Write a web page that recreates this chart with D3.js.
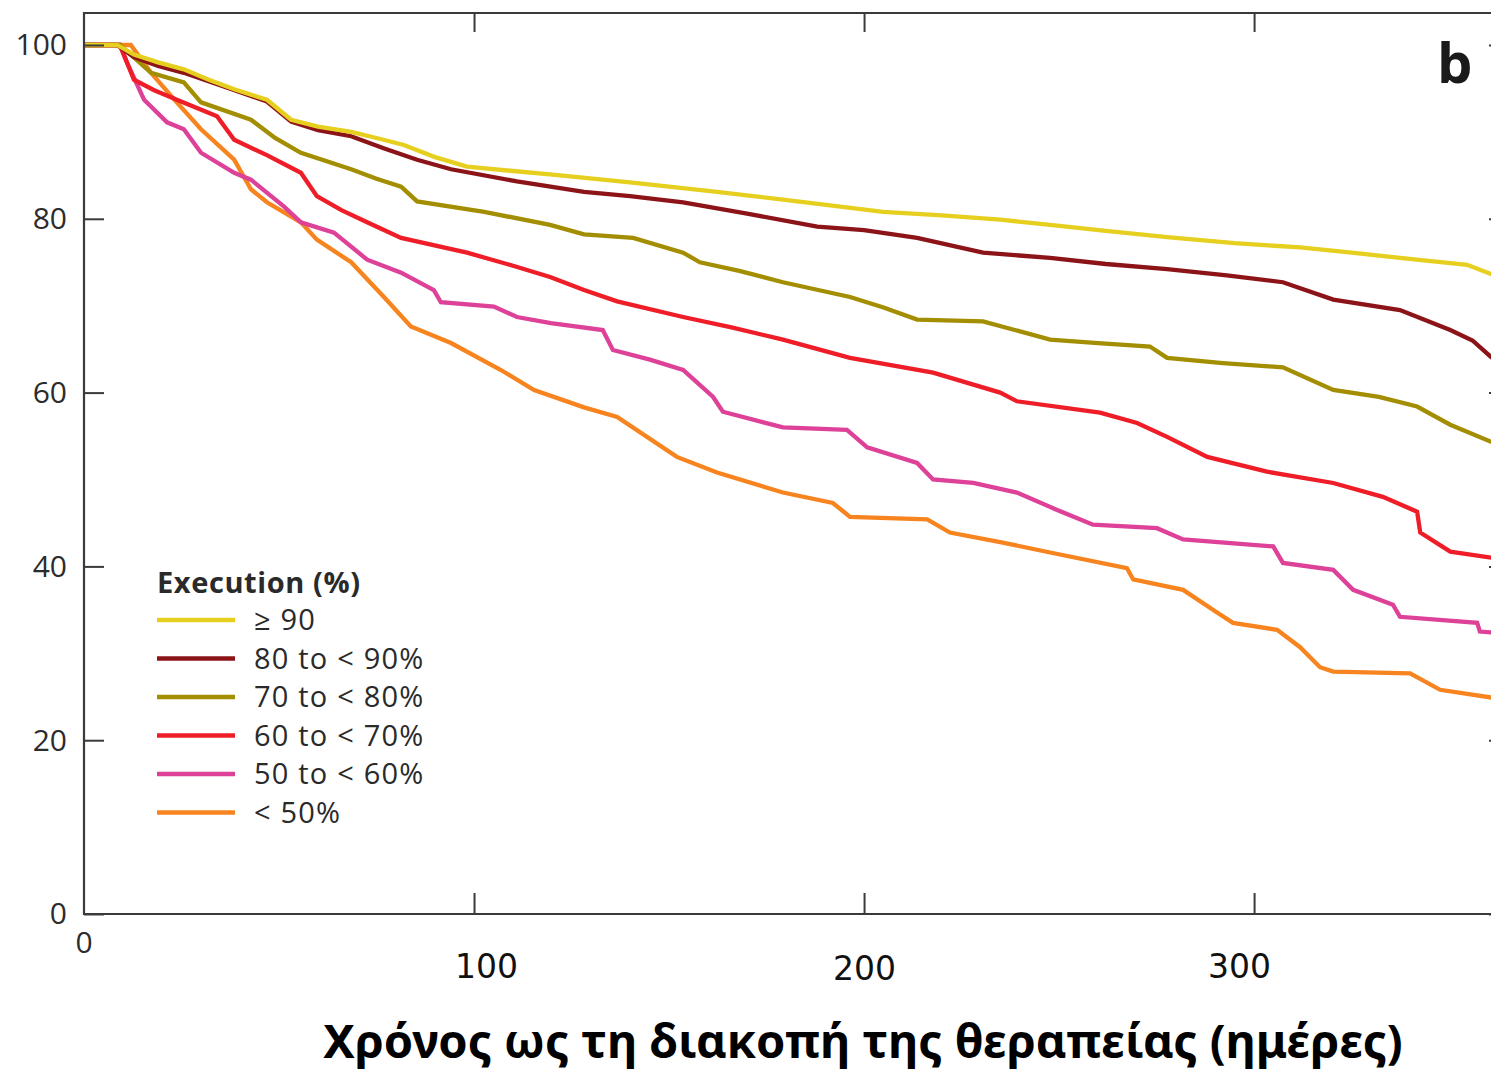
<!DOCTYPE html>
<html>
<head>
<meta charset="utf-8">
<script src="https://cdn.jsdelivr.net/npm/d3@7"></script>
<style>
  html, body { margin: 0; padding: 0; background: #fff; }
  svg { display: block; }
</style>
</head>
<body>
<svg id="chart" width="1491" height="1071"></svg>
<script>
// ---- Data (days, % remaining on therapy) ----
const legendTitle = "Execution (%)";
const seriesNames = ["\u2265 90", "80 to < 90%", "70 to < 80%", "60 to < 70%", "50 to < 60%", "< 50%"];
const seriesColors = ["#e6cf1e", "#8c1419", "#a28e00", "#ee1d27", "#dd4198", "#f7841f"];

const ge90 = [[0,100],[8.5,100],[12.8,98.9],[19,98.0],[25.6,97.2],[32,96.0],[38.5,94.9],[46.9,93.7],[53.1,91.4],[60,90.6],[68.5,90.0],[75,89.3],[82,88.5],[90,87.1],[98.2,86.0],[110,85.5],[119.5,85.1],[140,84.2],[162.3,83.1],[185,81.9],[204.9,80.8],[220,80.4],[234.9,79.9],[247.7,79.3],[262,78.6],[277.7,77.9],[295,77.2],[311.8,76.7],[325,76.1],[337.4,75.5],[354.6,74.7],[361,73.6]];
const r80to90 = [[0,100],[8.5,100],[12.8,98.6],[19,97.6],[25.6,96.8],[36,95.2],[46.9,93.5],[53.1,91.2],[60,90.2],[68.5,89.5],[77,88.1],[85.4,86.8],[94.1,85.7],[111,84.3],[128.2,83.1],[140,82.6],[153.6,81.9],[170,80.6],[188,79.1],[200,78.7],[213.6,77.8],[230.5,76.1],[247.7,75.5],[262,74.8],[277.7,74.2],[293,73.5],[307.4,72.7],[320.3,70.7],[337.4,69.5],[350.3,67.2],[356,66.0],[361,64.0]];
const r70to80 = [[0,100],[9.2,100],[17.2,96.8],[25.6,95.7],[30,93.4],[42.8,91.4],[49,89.3],[55.6,87.6],[68.5,85.7],[75,84.6],[81.3,83.7],[85.4,82.0],[102.6,80.8],[119.5,79.3],[128.2,78.2],[140.8,77.8],[153.6,76.1],[157.9,75.0],[168,74.0],[179.2,72.7],[196.4,71.0],[205,69.8],[213.6,68.4],[230.5,68.2],[247.7,66.1],[260,65.7],[273.3,65.3],[277.7,64.0],[292,63.4],[307.4,62.9],[320.3,60.3],[332,59.5],[341.8,58.4],[350.3,56.3],[361,54.3]];
const r60to70 = [[0,100],[9.2,100],[12.8,96.0],[18,94.8],[23.8,93.7],[34.1,91.8],[38.5,89.1],[47,87.3],[55.6,85.3],[59.7,82.6],[66,81.0],[72.6,79.6],[81.3,77.8],[98.2,76.1],[110,74.6],[119.5,73.3],[128.2,71.8],[136.7,70.5],[153.6,68.7],[166,67.5],[179.2,66.1],[196.4,64.0],[217.7,62.3],[234.9,60.0],[239.2,59.0],[260.5,57.7],[270,56.5],[277.7,54.9],[288,52.6],[303.3,50.9],[320.3,49.6],[333,48.0],[341.8,46.3],[342.6,43.9],[350.3,41.7],[361,41.0]];
const r50to60 = [[0,100],[9.2,100],[11,98.0],[15.4,93.7],[21.3,91.1],[25.6,90.3],[30,87.6],[38.5,85.3],[42.8,84.5],[51.3,81.4],[55.6,79.6],[64.1,78.4],[72.6,75.3],[81.3,73.8],[89.7,71.8],[91.5,70.4],[105.1,69.9],[111,68.7],[119.7,68.0],[133,67.2],[135.6,64.9],[145.1,63.8],[153.6,62.6],[161.3,59.5],[163.8,57.8],[179.2,56.0],[195.6,55.7],[200.8,53.7],[213.6,51.9],[217.7,50.0],[228,49.6],[239.2,48.5],[249.5,46.5],[258.7,44.8],[275.1,44.4],[281.8,43.1],[304.9,42.3],[307.4,40.4],[320.3,39.6],[325.4,37.3],[335.6,35.6],[337.4,34.2],[357.2,33.5],[357.9,32.5],[361,32.4]];
const lt50 = [[0,100],[12,100],[17.2,96.8],[23.8,93.4],[30,90.3],[38.5,86.8],[42.8,83.4],[46.9,81.9],[55.6,79.6],[59.7,77.6],[68.5,75.0],[76.9,71.0],[83.8,67.6],[94.1,65.7],[106.9,62.6],[115.4,60.3],[128.2,58.3],[136.7,57.2],[152,52.6],[162.3,50.8],[179.2,48.5],[192,47.3],[196.4,45.7],[216.2,45.4],[222,43.9],[234.9,42.8],[247.7,41.6],[267.4,39.8],[269,38.5],[281.8,37.3],[290.5,34.7],[294.6,33.5],[305.9,32.7],[311.8,30.7],[316.9,28.4],[320.3,27.9],[340,27.7],[347.7,25.8],[361,24.9]];
const seriesData = [ge90, r80to90, r70to80, r60to70, r50to60, lt50];

const yTicks = [0, 20, 40, 60, 80, 100];
const xTicks = [100, 200, 300];
const xTitle = "Χρόνος ως τη διακοπή της θεραπείας (ημέρες)";
const panelLabel = "b";

(function draw() {
  const svg = d3.select("#chart");
  const pL = 84, pR = 1492, pT = 13, pB = 914;
  const x = d3.scaleLinear().domain([0, 361]).range([pL, pR]);
  const y = d3.scaleLinear().domain([0, 100]).range([pB, 45]);
  const frameColor = "#3a3a3a";
  const tickFont = "'Open Sans', 'Noto Sans', sans-serif";

  svg.append("defs").append("clipPath").attr("id", "clip")
    .append("rect").attr("x", pL).attr("y", pT).attr("width", 1491 - pL).attr("height", pB - pT);

  const line = d3.line().x(d => x(d[0])).y(d => y(d[1])).curve(d3.curveLinear);
  const gLines = svg.append("g").attr("clip-path", "url(#clip)");
  for (let i = seriesData.length - 1; i >= 0; i--) {
    gLines.append("path").datum(seriesData[i])
      .attr("d", line).attr("fill", "none")
      .attr("stroke", seriesColors[i]).attr("stroke-width", 4.3)
      .attr("stroke-linejoin", "miter");
  }

  // left axis
  const gLeft = svg.append("g").attr("transform", `translate(${pL},0)`)
    .call(d3.axisLeft(y).tickValues(yTicks).tickSize(-20).tickPadding(17));
  gLeft.select(".domain").remove();
  gLeft.selectAll(".tick line").attr("stroke", frameColor).attr("stroke-width", 2);
  gLeft.selectAll(".tick text").attr("font-family", tickFont).attr("font-size", 30)
    .attr("fill", "#2c2c2c").attr("dy", "0.33em");

  // bottom axis
  const xLabelDx = {100: 12, 200: 0, 300: -15};
  const xLabelDy = {100: 0, 200: 2, 300: 0};
  const gBottom = svg.append("g").attr("transform", `translate(0,${pB})`)
    .call(d3.axisBottom(x).tickValues(xTicks).tickSize(-21).tickPadding(0));
  gBottom.select(".domain").remove();
  gBottom.selectAll(".tick line").attr("stroke", frameColor).attr("stroke-width", 2);
  gBottom.selectAll(".tick text").attr("font-family", "'DejaVu Sans', sans-serif").attr("font-size", 33)
    .attr("fill", "#111").attr("dy", "0")
    .attr("y", d => 64 + xLabelDy[d]).attr("dx", d => xLabelDx[d]);

  // "0" label on x axis
  svg.append("text").attr("x", x(0)).attr("y", 942).attr("dy", "0.35em")
    .attr("text-anchor", "middle").attr("font-family", tickFont).attr("font-size", 30)
    .attr("fill", "#2c2c2c").text("0");

  // top axis
  const gTop = svg.append("g").attr("transform", `translate(0,${pT})`)
    .call(d3.axisTop(x).tickValues(xTicks).tickSize(-19).tickFormat(""));
  gTop.select(".domain").remove();
  gTop.selectAll(".tick line").attr("stroke", frameColor).attr("stroke-width", 2);

  // right axis ticks (frame just beyond the image edge)
  const gRight = svg.append("g").attr("transform", `translate(1501,0)`)
    .call(d3.axisRight(y).tickValues(yTicks).tickSize(-12).tickFormat(""));
  gRight.select(".domain").remove();
  gRight.selectAll(".tick line").attr("stroke", frameColor).attr("stroke-width", 2);

  // frame
  svg.append("path")
    .attr("d", `M1500,${pT}H${pL}V${pB}H1500`)
    .attr("fill", "none").attr("stroke", frameColor).attr("stroke-width", 2.2);

  // panel label
  svg.append("text").attr("x", 1437).attr("y", 83)
    .attr("font-family", "'Open Sans', sans-serif").attr("font-weight", 700)
    .attr("font-size", 56).attr("fill", "#1a1a1a").text(panelLabel);

  // legend
  const legend = svg.append("g");
  legend.append("text").attr("x", 157).attr("y", 593)
    .attr("font-family", tickFont).attr("font-weight", 700).attr("font-size", 29)
    .attr("letter-spacing", 0.6)
    .attr("fill", "#2a2a2a").text(legendTitle);
  const legendY = d3.scaleLinear().domain([0, 1]).range([620, 658.5]);
  seriesNames.forEach((name, i) => {
    const yy = legendY(i);
    legend.append("line").attr("x1", 157).attr("x2", 235).attr("y1", yy).attr("y2", yy)
      .attr("stroke", seriesColors[i]).attr("stroke-width", 4.5);
    legend.append("text").attr("x", 254).attr("y", yy).attr("dy", "0.36em")
      .attr("font-family", tickFont).attr("font-size", 29).attr("letter-spacing", 1.2)
      .attr("fill", "#2a2a2a").text(name);
  });

  // x title, fitted to width
  const title = svg.append("text").attr("x", 863).attr("y", 1058).attr("text-anchor", "middle")
    .attr("font-family", "'Noto Sans', sans-serif").attr("font-weight", 700)
    .attr("font-size", 40).attr("fill", "#000").text(xTitle);
  const w = title.node().getComputedTextLength();
  title.attr("font-size", 40 * 1080 / w);
})();
</script>
</body>
</html>
